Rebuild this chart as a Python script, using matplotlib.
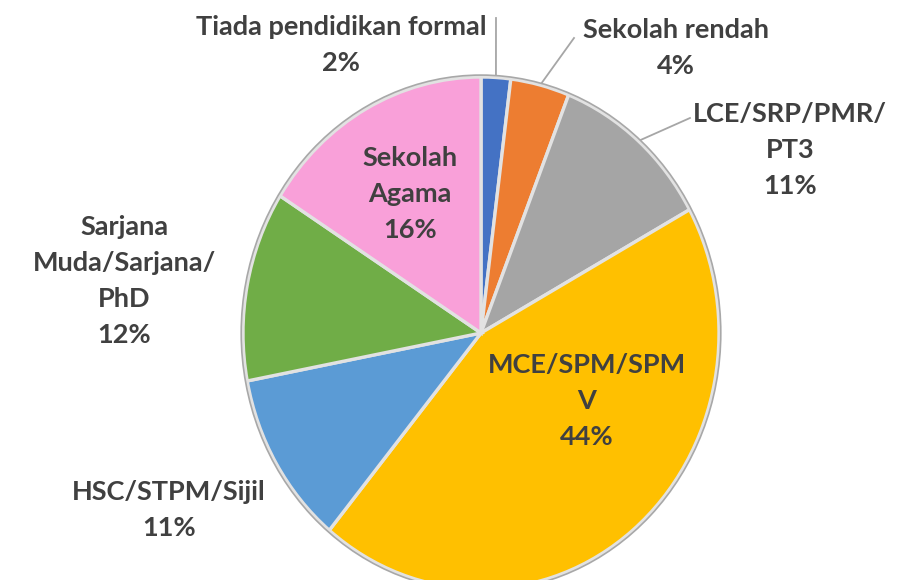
import numpy as np
import matplotlib
matplotlib.use('Agg')
from matplotlib import pyplot as plt
from matplotlib.patches import Ellipse

labels = ['Tiada pendidikan formal', 'Sekolah rendah', 'LCE/SRP/PMR/\nPT3',
          'MCE/SPM/SPM\nV', 'HSC/STPM/Sijil', 'Sarjana\nMuda/Sarjana/\nPhD',
          'Sekolah\nAgama']
values = [2, 4, 11, 44, 11, 12, 16]
colors = ['#4472C4', '#ED7D31', '#A5A5A5', '#FFC000', '#5B9BD5', '#70AD47', '#F9A0D9']

# label centres in pixels (x, y from top) -- layout only
label_px = [(341, 45), (676, 48), (790, 150), (587, 401), (169, 510), (124, 281), (410, 194)]
# where leader lines leave the label (None = no line)
leader_px = [(496, 18), (574, 38), (690, 118), None, None, None, None]

W, H = 918, 580
cx, cy = 481, 333          # pie centre in px
rx, ry = 238, 256          # radius in px (picture is slightly stretched)

plt.rcParams['font.family'] = ['Lato', 'DejaVu Sans']

fig = plt.figure(figsize=(W / 100, H / 100), dpi=100)
ax = fig.add_axes([0, 0, 1, 1])

wedges, _ = ax.pie(values, colors=colors, startangle=90, counterclock=False,
                   wedgeprops=dict(edgecolor='#e2e2e2', linewidth=2.4))
ax.add_patch(Ellipse((0, 0), 2.015, 2.015, fill=False, edgecolor='#a8a8a8', lw=1.2, zorder=3))
ax.set_aspect('auto')
ax.set_xlim(-cx / rx, (W - cx) / rx)
ax.set_ylim(-(H - cy) / ry, cy / ry)
ax.axis('off')


def px2data(px, py):
    return (px - cx) / rx, (cy - py) / ry


for w, lab, v, pos, lead in zip(wedges, labels, values, label_px, leader_px):
    x, y = px2data(*pos)
    ax.text(x, y, f'{lab}\n{v}%', ha='center', va='center', fontsize=19.5,
            fontweight='bold', color='#404040', linespacing=1.6, zorder=5)
    if lead is not None:
        ang = np.deg2rad((w.theta1 + w.theta2) / 2)
        ex, ey = np.cos(ang) * 1.0, np.sin(ang) * 1.0
        lx, ly = px2data(*lead)
        ax.plot([lx, ex], [ly, ey], color='#a6a6a6', lw=1.3, zorder=0)

fig.savefig('out.png', dpi=100, facecolor='white')
